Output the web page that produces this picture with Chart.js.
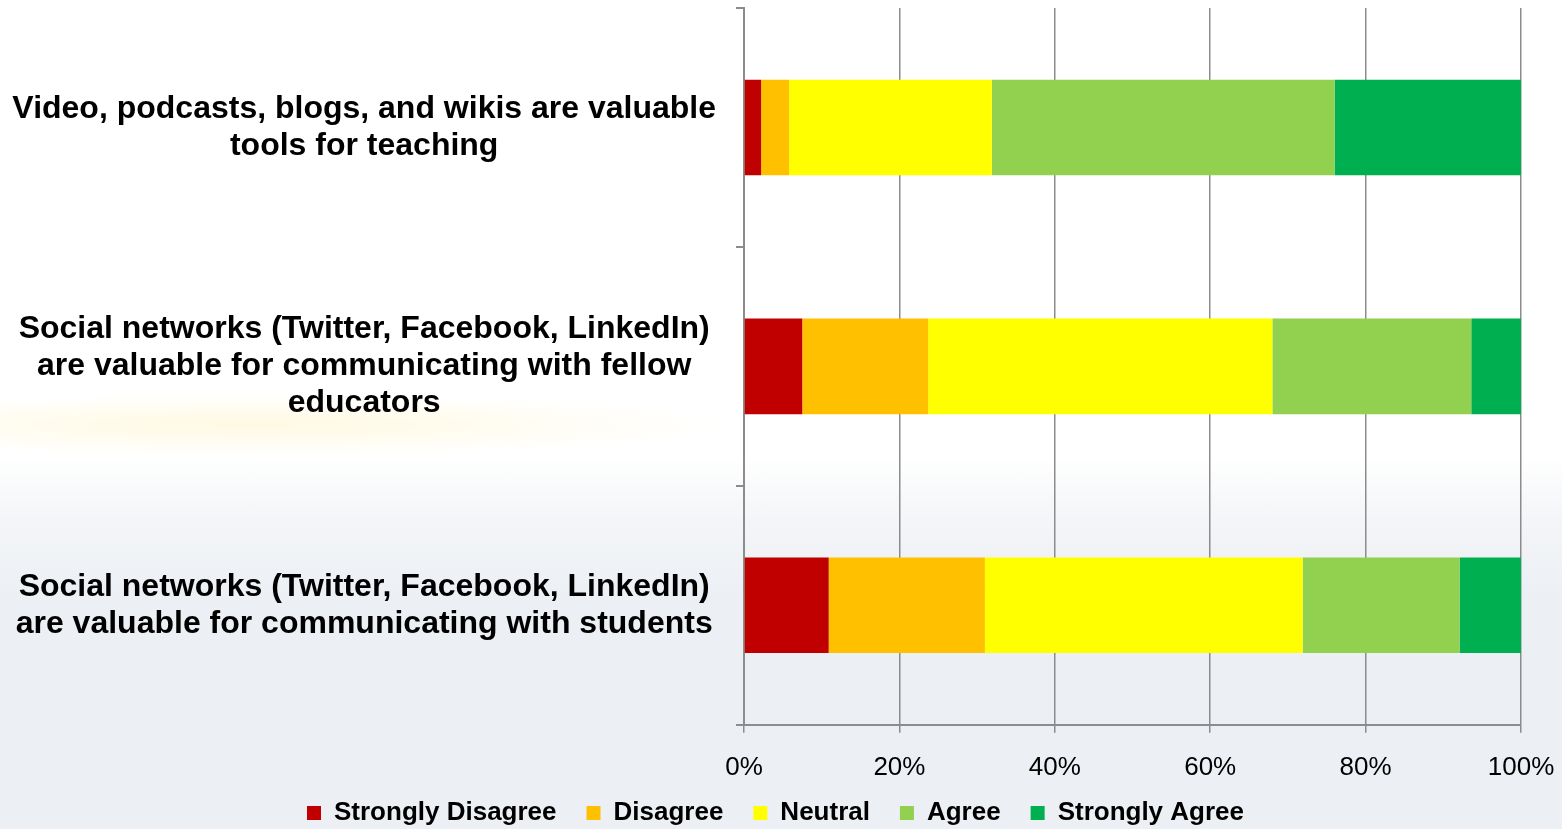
<!DOCTYPE html>
<html>
<head>
<meta charset="utf-8">
<script src="https://cdn.jsdelivr.net/npm/chart.js@4.4.1/dist/chart.umd.min.js"></script>
<style>
  html, body { margin: 0; padding: 0; }
  body {
    width: 1562px;
    height: 829px;
    overflow: hidden;
    background:
      radial-gradient(ellipse 700px 45px at 250px 425px, rgba(255, 236, 160, 0.3), rgba(255, 236, 160, 0) 70%),
      linear-gradient(to bottom, #ffffff 0%, #ffffff 55%, #f3f5f8 63%, #eceff4 72%, #eceff4 100%);
  }
  #wrap { position: relative; width: 1562px; height: 829px; }
</style>
</head>
<body>
<div id="wrap"><canvas id="surveyChart"></canvas></div>
<script>
    const statements = [
        ['Video, podcasts, blogs, and wikis are valuable', 'tools for teaching'],
        ['Social networks (Twitter, Facebook, LinkedIn)', 'are valuable for communicating with fellow', 'educators'],
        ['Social networks (Twitter, Facebook, LinkedIn)', 'are valuable for communicating with students']
    ];

    // percent of responses per statement
    const stronglyDisagree = [2.2, 7.5, 10.9];
    const disagree = [3.6, 16.2, 20.1];
    const neutral = [26.1, 44.3, 40.9];
    const agree = [44.1, 25.6, 20.2];
    const stronglyAgree = [24.0, 6.4, 7.9];

    const axisGray = '#8c8c8c';
    const fontFamily = 'Liberation Sans, Arial, sans-serif';

    // pull the legend up closer to the axis labels, keep its wide item spacing
    const legendNudge = {
        id: 'legendNudge',
        afterLayout: function(chart) {
            const legend = chart.legend;
            legend.top -= 32;
            legend.bottom -= 32;
            legend.left += 15;
            legend.right += 15;
        }
    };

    const ctx = document.getElementById('surveyChart').getContext('2d');
    const surveyChart = new Chart(ctx, {
        type: 'bar',
        data: {
            labels: statements,
            datasets: [
                { label: 'Strongly Disagree', data: stronglyDisagree, backgroundColor: '#c00000' },
                { label: 'Disagree', data: disagree, backgroundColor: '#ffc000' },
                { label: 'Neutral', data: neutral, backgroundColor: '#ffff00' },
                { label: 'Agree', data: agree, backgroundColor: '#92d050' },
                { label: 'Strongly Agree', data: stronglyAgree, backgroundColor: '#00b050' }
            ]
        },
        options: {
            indexAxis: 'y',
            responsive: true,
            maintainAspectRatio: false,
            animation: false,
            datasets: {
                bar: {
                    categoryPercentage: 1,
                    barPercentage: 0.4,
                    borderWidth: 0
                }
            },
            layout: {
                padding: { top: 8, right: 41, left: 0, bottom: -39 }
            },
            scales: {
                x: {
                    stacked: true,
                    min: 0,
                    max: 100,
                    border: { color: axisGray, width: 2 },
                    grid: {
                        color: axisGray,
                        lineWidth: 1.5,
                        tickLength: 8
                    },
                    ticks: {
                        stepSize: 20,
                        padding: 19,
                        color: '#000',
                        font: { family: fontFamily, size: 26 },
                        callback: function(value) {
                            return value + '%';
                        }
                    },
                    afterFit: function(scale) {
                        scale.paddingRight = 0;
                    }
                },
                y: {
                    stacked: true,
                    border: { color: axisGray, width: 2 },
                    grid: {
                        drawOnChartArea: false,
                        color: axisGray,
                        lineWidth: 2,
                        tickLength: 8
                    },
                    ticks: {
                        crossAlign: 'center',
                        padding: 20,
                        color: '#000',
                        font: { family: fontFamily, size: 32, weight: 'bold', lineHeight: 1.15 }
                    },
                    afterFit: function(scale) {
                        // keep the multi-line labels from pushing the plot down
                        scale.width = 744;
                        scale.paddingTop = 0;
                        scale.paddingBottom = 0;
                    }
                }
            },
            plugins: {
                legend: {
                    position: 'bottom',
                    labels: {
                        boxWidth: 14,
                        boxHeight: 14,
                        padding: 30,
                        color: '#000',
                        font: { family: fontFamily, size: 26, weight: 'bold' }
                    }
                },
                tooltip: {
                    callbacks: {
                        label: function(context) {
                            return context.dataset.label + ': ' + context.raw + '%';
                        }
                    }
                }
            }
        },
        plugins: [legendNudge]
    });
</script>
</body>
</html>
